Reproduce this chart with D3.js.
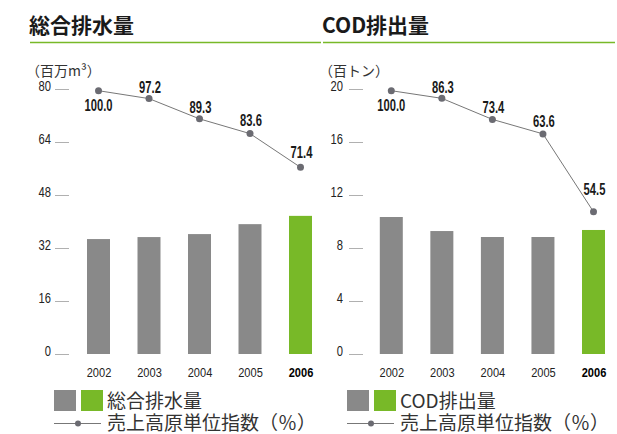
<!doctype html>
<html lang="ja">
<head>
<meta charset="utf-8">
<title>総合排水量 / COD排出量</title>
<script src="https://cdn.jsdelivr.net/npm/d3@7"></script>
<style>
  body { margin: 0; background: #fff; }
  svg { display: block; }
  .jp { font-family: "Noto Sans CJK JP", "Noto Sans", sans-serif; }
  .num { font-family: "Liberation Sans", Arial, sans-serif; }
</style>
</head>
<body>
<svg id="chart" width="617" height="434"></svg>
<script>
// data
var years = ["2002", "2003", "2004", "2005", "2006"];
var waterVolume = [34.7, 35.3, 36.2, 39.2, 41.7];     // 百万m3
var waterIndex = [100.0, 97.2, 89.3, 83.6, 71.4];     // 売上高原単位指数 (%)
var waterIndexDrawn = [100.0, 97.0, 89.3, 83.7, 70.9]; // where the dots sit
var codVolume = [10.34, 9.28, 8.83, 8.83, 9.36];      // 百トン
var codIndex = [100.0, 86.3, 73.4, 63.6, 54.5];
var codIndexDrawn = [100.0, 97.1, 89.1, 83.6, 54.0];  // reference reuses the left line shape
var waterTicks = [0, 16, 32, 48, 64, 80];
var codTicks = [0, 4, 8, 12, 16, 20];

var gray = "#898989", green = "#78b928", dotColor = "#6b6b72";
var svg = d3.select("#chart");

// no condensed font installed, so squeeze the numbers horizontally
function squeeze(sel, sx) {
  sel.each(function() {
    var t = d3.select(this);
    var x = +t.attr("x") || 0, y = +t.attr("y") || 0;
    t.attr("transform", "translate(" + x + "," + y + ") scale(" + sx + ",1)")
      .attr("x", 0).attr("y", 0);
  });
}

function panel(o) {
  var g = svg.append("g");

  // title and green rule
  g.append("text").attr("class", "jp")
    .attr("x", o.left).attr("y", 33)
    .attr("font-size", 21).attr("font-weight", 700).attr("fill", "#1a1a1a")
    .text(o.title);
  g.append("line")
    .attr("x1", o.ruleX[0]).attr("x2", o.ruleX[1]).attr("y1", 42.5).attr("y2", 42.5)
    .attr("stroke", green).attr("stroke-width", 1.5);

  // unit
  g.append("text").attr("class", "jp")
    .attr("x", o.left - 3).attr("y", 75.5)
    .attr("font-size", 14).attr("fill", "#333")
    .text(o.unit);

  var x = d3.scalePoint().domain(years).range(o.xRange);
  var y = d3.scaleLinear().domain(o.yDomain).range([354, 89]);
  var yi = d3.scaleLinear().domain([0, 100]).range([354, 90.7]);

  // y axis (ticks only)
  var yAxis = d3.axisLeft(y).tickValues(o.ticks).tickSize(14).tickPadding(o.pad);
  var ya = g.append("g").attr("transform", "translate(" + o.axisX + ",0)").call(yAxis);
  ya.select(".domain").remove();
  ya.selectAll("line").attr("stroke", "#b0b0b0");
  ya.selectAll("text").attr("class", "num").attr("font-size", 14)
    .attr("fill", "#222").attr("dy", "0.12em");
  squeeze(ya.selectAll("text"), 0.8);

  // x axis labels
  var xAxis = d3.axisBottom(x).tickSize(0).tickPadding(13);
  var xa = g.append("g").attr("transform", "translate(0,354)").call(xAxis);
  xa.select(".domain").remove();
  xa.selectAll("text").attr("class", "num").attr("font-size", 13.5)
    .attr("fill", function(d) { return d === "2006" ? "#000" : "#222"; })
    .attr("font-weight", function(d) { return d === "2006" ? 700 : 400; });
  squeeze(xa.selectAll("text"), 0.82);

  // bars
  g.selectAll("rect.bar").data(o.values).enter().append("rect")
    .attr("class", "bar")
    .attr("x", function(d, i) { return x(years[i]) - 11.5; })
    .attr("width", 23)
    .attr("y", function(d) { return y(d); })
    .attr("height", function(d) { return y(0) - y(d); })
    .attr("fill", function(d, i) { return years[i] === "2006" ? green : gray; });

  // index line
  var line = d3.line()
    .x(function(d, i) { return x(years[i]); })
    .y(function(d) { return yi(d); });
  g.append("path").attr("d", line(o.drawn))
    .attr("fill", "none").attr("stroke", "#777").attr("stroke-width", 1);
  g.selectAll("circle.dot").data(o.drawn).enter().append("circle")
    .attr("class", "dot")
    .attr("cx", function(d, i) { return x(years[i]); })
    .attr("cy", function(d) { return yi(d); })
    .attr("r", 3.5).attr("fill", dotColor);
  var labs = g.selectAll("text.lab").data(o.index).enter().append("text")
    .attr("class", "lab num")
    .attr("x", function(d, i) { return x(years[i]) + (i === 0 ? 0 : 1); })
    .attr("y", function(d, i) { return yi(o.drawn[i]) + o.labelDy[i]; })
    .attr("text-anchor", "middle")
    .attr("font-size", 16.5).attr("font-weight", 700).attr("fill", "#1a1a1a")
    .text(function(d) { return d.toFixed(1); });
  squeeze(labs, 0.68);

  // legend
  var lx = o.legendX;
  g.append("rect").attr("x", lx).attr("y", 390).attr("width", 22).attr("height", 21).attr("fill", gray);
  g.append("rect").attr("x", lx + 27).attr("y", 390).attr("width", 22).attr("height", 21).attr("fill", green);
  g.append("text").attr("class", "jp")
    .attr("x", lx + 53).attr("y", 407.5).attr("font-size", 19).attr("fill", "#333")
    .text(o.title);
  g.append("line").attr("x1", lx).attr("x2", lx + 47).attr("y1", 423.5).attr("y2", 423.5)
    .attr("stroke", "#777").attr("stroke-width", 1);
  g.append("circle").attr("cx", lx + 24).attr("cy", 423.5).attr("r", 3).attr("fill", dotColor);
  g.append("text").attr("class", "jp")
    .attr("x", lx + 53).attr("y", 429.5).attr("font-size", 19).attr("fill", "#333")
    .text("売上高原単位指数（％）");
}

panel({
  title: "総合排水量", unit: "（百万m³）", left: 29, ruleX: [30, 321],
  values: waterVolume, index: waterIndex, drawn: waterIndexDrawn,
  yDomain: [0, 80], ticks: waterTicks, axisX: 69, pad: 4,
  xRange: [98.5, 300.5], labelDy: [20, -6, -6, -8, -9], legendX: 54
});
panel({
  title: "COD排出量", unit: "（百トン）", left: 322, ruleX: [323, 615],
  values: codVolume, index: codIndex, drawn: codIndexDrawn,
  yDomain: [0, 20], ticks: codTicks, axisX: 363, pad: 6,
  xRange: [391.3, 593.5], labelDy: [20, -5, -6, -7, -17], legendX: 347
});
</script>
</body>
</html>
